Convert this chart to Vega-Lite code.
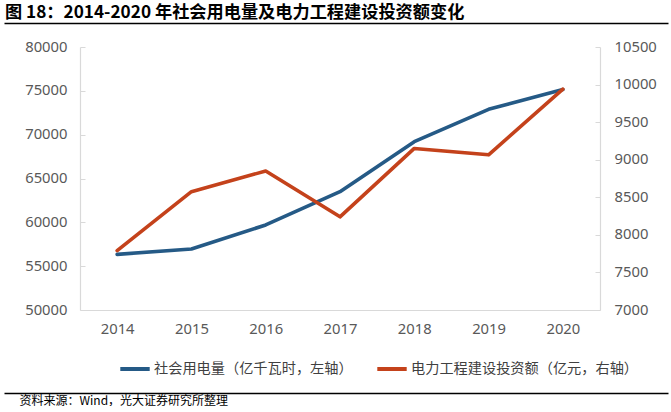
{
  "$schema": "https://vega.github.io/schema/vega-lite/v6.json",
  "background": "white",
  "padding": {"left": 5, "top": 3, "right": 0, "bottom": 0},
  "width": 520,
  "height": 263,
  "config": {
    "view": {"stroke": null},
    "font": "Noto Sans CJK SC"
  },
  "title": {
    "text": "图 18：2014-2020 年社会用电量及电力工程建设投资额变化",
    "anchor": "start",
    "font": "Noto Sans CJK SC",
    "fontSize": 17.2,
    "fontWeight": "bold",
    "color": "#000000",
    "offset": 2,
    "dx": -14
  },
  "data": {
    "values": [
      {"year": "2014", "elec": 56350, "invest": 7790},
      {"year": "2015", "elec": 56960, "invest": 8575},
      {"year": "2016", "elec": 59700, "invest": 8850},
      {"year": "2017", "elec": 63500, "invest": 8240},
      {"year": "2018", "elec": 69200, "invest": 9150},
      {"year": "2019", "elec": 72890, "invest": 9065},
      {"year": "2020", "elec": 75150, "invest": 9940}
    ]
  },
  "layer": [
    {
      "mark": {"type": "text", "text": ""},
      "encoding": {
        "x": {
          "field": "year",
          "type": "ordinal",
          "scale": {"type": "point", "range": [-76, 588]},
          "axis": {
            "orient": "top",
            "offset": 24,
            "title": null,
            "labels": false,
            "ticks": false,
            "grid": false,
            "domainColor": "#000000",
            "domainWidth": 1.3
          }
        }
      }
    },
    {
      "mark": {"type": "text", "text": ""},
      "encoding": {
        "x": {
          "field": "year",
          "type": "ordinal",
          "scale": {"type": "point", "range": [-76, 588]},
          "axis": {
            "orient": "bottom",
            "offset": 83,
            "labels": false,
            "ticks": false,
            "grid": false,
            "domainColor": "#000000",
            "domainWidth": 1.3,
            "title": "资料来源：Wind，光大证券研究所整理",
            "titleFont": "Noto Sans CJK SC",
            "titleFontSize": 12,
            "titleFontWeight": "normal",
            "titleColor": "#000000",
            "titleAnchor": "start",
            "titleAlign": "left",
            "titleX": -61,
            "titlePadding": 2
          }
        }
      }
    },
    {
      "mark": {"type": "line", "strokeWidth": 3.6, "strokeJoin": "round", "strokeCap": "round"},
      "encoding": {
        "x": {
          "field": "year",
          "type": "ordinal",
          "scale": {"type": "point", "padding": 0.5},
          "axis": {
            "orient": "bottom",
            "title": null,
            "labelAngle": 0,
            "labelFont": "Noto Sans",
            "labelFontSize": 14.8,
            "labelColor": "#595959",
            "labelPadding": 11,
            "ticks": false,
            "domainColor": "#D9D9D9",
            "domainWidth": 1.2,
            "grid": false
          }
        },
        "y": {
          "field": "elec",
          "type": "quantitative",
          "scale": {"domain": [50000, 80000], "nice": false, "zero": false},
          "axis": {
            "orient": "left",
            "title": null,
            "values": [50000, 55000, 60000, 65000, 70000, 75000, 80000],
            "format": "d",
            "labelFont": "Noto Sans",
            "labelFontSize": 14.8,
            "labelColor": "#595959",
            "labelPadding": 18,
            "labelFlush": false,
            "labelOverlap": false,
            "labelBound": false,
            "tickSize": -5,
            "tickColor": "#D9D9D9",
            "domainColor": "#D9D9D9",
            "domainWidth": 1.2,
            "grid": false
          }
        },
        "color": {
          "datum": "社会用电量（亿千瓦时，左轴）",
          "scale": {
            "domain": ["社会用电量（亿千瓦时，左轴）", "电力工程建设投资额（亿元，右轴）"],
            "range": ["#255A86", "#C4421B"]
          },
          "legend": {
            "title": null,
            "orient": "none",
            "direction": "horizontal",
            "legendX": 46,
            "legendY": 313,
            "padding": 0,
            "symbolType": "M-2.1,0H2.1",
            "symbolSize": 196,
            "symbolStrokeWidth": 4,
            "labelOffset": 10,
            "columnPadding": 16,
            "labelFont": "Noto Sans CJK SC",
            "labelFontSize": 14.2,
            "labelColor": "#404040",
            "labelLimit": 400
          }
        }
      }
    },
    {
      "mark": {"type": "line", "strokeWidth": 3.6, "strokeJoin": "round", "strokeCap": "round"},
      "encoding": {
        "x": {
          "field": "year",
          "type": "ordinal",
          "scale": {"type": "point", "padding": 0.5},
          "axis": null
        },
        "y": {
          "field": "invest",
          "type": "quantitative",
          "scale": {"domain": [7000, 10500], "nice": false, "zero": false},
          "axis": {
            "orient": "right",
            "title": null,
            "values": [7000, 7500, 8000, 8500, 9000, 9500, 10000, 10500],
            "format": "d",
            "labelFont": "Noto Sans",
            "labelFontSize": 14.8,
            "labelColor": "#595959",
            "labelPadding": 19,
            "labelFlush": false,
            "labelOverlap": false,
            "labelBound": false,
            "tickSize": -5,
            "tickColor": "#D9D9D9",
            "domainColor": "#D9D9D9",
            "domainWidth": 1.2,
            "grid": false
          }
        },
        "color": {"datum": "电力工程建设投资额（亿元，右轴）"}
      }
    }
  ],
  "resolve": {"scale": {"x": "independent", "y": "independent"}}
}
